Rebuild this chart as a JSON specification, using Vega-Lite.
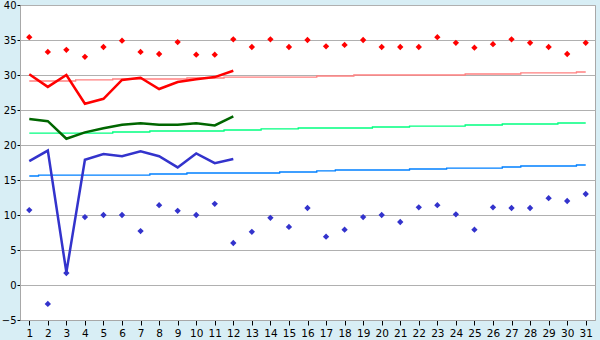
{
  "$schema": "https://vega.github.io/schema/vega-lite/v6.json",
  "width": 575,
  "height": 315,
  "autosize": {"type": "none"},
  "padding": {"left": 20, "top": 5, "right": 5, "bottom": 20},
  "background": "#d8eef5",
  "config": {
    "view": {"fill": "white", "stroke": "#a8a8a8", "strokeWidth": 1},
    "axis": {"labelFont": "DejaVu Sans", "labelFontSize": 10.5, "labelColor": "#000000", "tickColor": "#000000", "domainColor": "#a8a8a8", "title": null}
  },
  "datasets": {
    "normals": [
      {"day":1,"series":"Tmax normal","value":29.14},{"day":2,"series":"Tmax normal","value":29.14},{"day":3,"series":"Tmax normal","value":29.14},{"day":4,"series":"Tmax normal","value":29.29},{"day":5,"series":"Tmax normal","value":29.29},{"day":6,"series":"Tmax normal","value":29.43},{"day":7,"series":"Tmax normal","value":29.43},{"day":8,"series":"Tmax normal","value":29.43},{"day":9,"series":"Tmax normal","value":29.43},{"day":10,"series":"Tmax normal","value":29.57},{"day":11,"series":"Tmax normal","value":29.57},{"day":12,"series":"Tmax normal","value":29.71},{"day":13,"series":"Tmax normal","value":29.71},{"day":14,"series":"Tmax normal","value":29.71},{"day":15,"series":"Tmax normal","value":29.71},{"day":16,"series":"Tmax normal","value":29.71},{"day":17,"series":"Tmax normal","value":29.86},{"day":18,"series":"Tmax normal","value":29.86},{"day":19,"series":"Tmax normal","value":30.0},{"day":20,"series":"Tmax normal","value":30.0},{"day":21,"series":"Tmax normal","value":30.0},{"day":22,"series":"Tmax normal","value":30.0},{"day":23,"series":"Tmax normal","value":30.0},{"day":24,"series":"Tmax normal","value":30.0},{"day":25,"series":"Tmax normal","value":30.14},{"day":26,"series":"Tmax normal","value":30.14},{"day":27,"series":"Tmax normal","value":30.14},{"day":28,"series":"Tmax normal","value":30.29},{"day":29,"series":"Tmax normal","value":30.29},{"day":30,"series":"Tmax normal","value":30.29},{"day":31,"series":"Tmax normal","value":30.43},
      {"day":1,"series":"Tmean normal","value":21.71},{"day":2,"series":"Tmean normal","value":21.71},{"day":3,"series":"Tmean normal","value":21.71},{"day":4,"series":"Tmean normal","value":21.71},{"day":5,"series":"Tmean normal","value":21.71},{"day":6,"series":"Tmean normal","value":21.86},{"day":7,"series":"Tmean normal","value":21.86},{"day":8,"series":"Tmean normal","value":22.0},{"day":9,"series":"Tmean normal","value":22.0},{"day":10,"series":"Tmean normal","value":22.0},{"day":11,"series":"Tmean normal","value":22.0},{"day":12,"series":"Tmean normal","value":22.14},{"day":13,"series":"Tmean normal","value":22.14},{"day":14,"series":"Tmean normal","value":22.29},{"day":15,"series":"Tmean normal","value":22.29},{"day":16,"series":"Tmean normal","value":22.43},{"day":17,"series":"Tmean normal","value":22.43},{"day":18,"series":"Tmean normal","value":22.43},{"day":19,"series":"Tmean normal","value":22.43},{"day":20,"series":"Tmean normal","value":22.57},{"day":21,"series":"Tmean normal","value":22.57},{"day":22,"series":"Tmean normal","value":22.71},{"day":23,"series":"Tmean normal","value":22.71},{"day":24,"series":"Tmean normal","value":22.71},{"day":25,"series":"Tmean normal","value":22.86},{"day":26,"series":"Tmean normal","value":22.86},{"day":27,"series":"Tmean normal","value":23.0},{"day":28,"series":"Tmean normal","value":23.0},{"day":29,"series":"Tmean normal","value":23.0},{"day":30,"series":"Tmean normal","value":23.14},{"day":31,"series":"Tmean normal","value":23.14},
      {"day":1,"series":"Tmin normal","value":15.57},{"day":2,"series":"Tmin normal","value":15.71},{"day":3,"series":"Tmin normal","value":15.71},{"day":4,"series":"Tmin normal","value":15.71},{"day":5,"series":"Tmin normal","value":15.71},{"day":6,"series":"Tmin normal","value":15.71},{"day":7,"series":"Tmin normal","value":15.71},{"day":8,"series":"Tmin normal","value":15.86},{"day":9,"series":"Tmin normal","value":15.86},{"day":10,"series":"Tmin normal","value":16.0},{"day":11,"series":"Tmin normal","value":16.0},{"day":12,"series":"Tmin normal","value":16.0},{"day":13,"series":"Tmin normal","value":16.0},{"day":14,"series":"Tmin normal","value":16.0},{"day":15,"series":"Tmin normal","value":16.14},{"day":16,"series":"Tmin normal","value":16.14},{"day":17,"series":"Tmin normal","value":16.29},{"day":18,"series":"Tmin normal","value":16.43},{"day":19,"series":"Tmin normal","value":16.43},{"day":20,"series":"Tmin normal","value":16.43},{"day":21,"series":"Tmin normal","value":16.43},{"day":22,"series":"Tmin normal","value":16.57},{"day":23,"series":"Tmin normal","value":16.57},{"day":24,"series":"Tmin normal","value":16.71},{"day":25,"series":"Tmin normal","value":16.71},{"day":26,"series":"Tmin normal","value":16.71},{"day":27,"series":"Tmin normal","value":16.86},{"day":28,"series":"Tmin normal","value":17.0},{"day":29,"series":"Tmin normal","value":17.0},{"day":30,"series":"Tmin normal","value":17.0},{"day":31,"series":"Tmin normal","value":17.14}
    ],
    "current": [
      {"day":1,"series":"Tmax avg","value":30.1},{"day":2,"series":"Tmax avg","value":28.3},{"day":3,"series":"Tmax avg","value":30.0},{"day":4,"series":"Tmax avg","value":25.9},{"day":5,"series":"Tmax avg","value":26.6},{"day":6,"series":"Tmax avg","value":29.3},{"day":7,"series":"Tmax avg","value":29.6},{"day":8,"series":"Tmax avg","value":28.0},{"day":9,"series":"Tmax avg","value":29.0},{"day":10,"series":"Tmax avg","value":29.4},{"day":11,"series":"Tmax avg","value":29.7},{"day":12,"series":"Tmax avg","value":30.6},
      {"day":1,"series":"Tmean","value":23.7},{"day":2,"series":"Tmean","value":23.4},{"day":3,"series":"Tmean","value":20.9},{"day":4,"series":"Tmean","value":21.8},{"day":5,"series":"Tmean","value":22.4},{"day":6,"series":"Tmean","value":22.9},{"day":7,"series":"Tmean","value":23.1},{"day":8,"series":"Tmean","value":22.9},{"day":9,"series":"Tmean","value":22.9},{"day":10,"series":"Tmean","value":23.1},{"day":11,"series":"Tmean","value":22.8},{"day":12,"series":"Tmean","value":24.1},
      {"day":1,"series":"Tmin avg","value":17.7},{"day":2,"series":"Tmin avg","value":19.2},{"day":3,"series":"Tmin avg","value":1.8},{"day":4,"series":"Tmin avg","value":17.9},{"day":5,"series":"Tmin avg","value":18.7},{"day":6,"series":"Tmin avg","value":18.4},{"day":7,"series":"Tmin avg","value":19.1},{"day":8,"series":"Tmin avg","value":18.4},{"day":9,"series":"Tmin avg","value":16.8},{"day":10,"series":"Tmin avg","value":18.8},{"day":11,"series":"Tmin avg","value":17.4},{"day":12,"series":"Tmin avg","value":18.0}
    ],
    "extremes": [
      {"day":1,"series":"Max","value":35.4},{"day":2,"series":"Max","value":33.3},{"day":3,"series":"Max","value":33.6},{"day":4,"series":"Max","value":32.6},{"day":5,"series":"Max","value":34.0},{"day":6,"series":"Max","value":34.9},{"day":7,"series":"Max","value":33.3},{"day":8,"series":"Max","value":33.0},{"day":9,"series":"Max","value":34.7},{"day":10,"series":"Max","value":32.9},{"day":11,"series":"Max","value":32.9},{"day":12,"series":"Max","value":35.1},{"day":13,"series":"Max","value":34.0},{"day":14,"series":"Max","value":35.1},{"day":15,"series":"Max","value":34.0},{"day":16,"series":"Max","value":35.0},{"day":17,"series":"Max","value":34.1},{"day":18,"series":"Max","value":34.3},{"day":19,"series":"Max","value":35.0},{"day":20,"series":"Max","value":34.0},{"day":21,"series":"Max","value":34.0},{"day":22,"series":"Max","value":34.0},{"day":23,"series":"Max","value":35.4},{"day":24,"series":"Max","value":34.6},{"day":25,"series":"Max","value":33.9},{"day":26,"series":"Max","value":34.4},{"day":27,"series":"Max","value":35.1},{"day":28,"series":"Max","value":34.6},{"day":29,"series":"Max","value":34.0},{"day":30,"series":"Max","value":33.0},{"day":31,"series":"Max","value":34.6},
      {"day":1,"series":"Min","value":10.7},{"day":2,"series":"Min","value":-2.7},{"day":3,"series":"Min","value":1.7},{"day":4,"series":"Min","value":9.7},{"day":5,"series":"Min","value":10.0},{"day":6,"series":"Min","value":10.0},{"day":7,"series":"Min","value":7.7},{"day":8,"series":"Min","value":11.4},{"day":9,"series":"Min","value":10.6},{"day":10,"series":"Min","value":10.0},{"day":11,"series":"Min","value":11.6},{"day":12,"series":"Min","value":6.0},{"day":13,"series":"Min","value":7.6},{"day":14,"series":"Min","value":9.6},{"day":15,"series":"Min","value":8.3},{"day":16,"series":"Min","value":11.0},{"day":17,"series":"Min","value":6.9},{"day":18,"series":"Min","value":7.9},{"day":19,"series":"Min","value":9.7},{"day":20,"series":"Min","value":10.0},{"day":21,"series":"Min","value":9.0},{"day":22,"series":"Min","value":11.1},{"day":23,"series":"Min","value":11.4},{"day":24,"series":"Min","value":10.1},{"day":25,"series":"Min","value":7.9},{"day":26,"series":"Min","value":11.1},{"day":27,"series":"Min","value":11.0},{"day":28,"series":"Min","value":11.0},{"day":29,"series":"Min","value":12.4},{"day":30,"series":"Min","value":12.0},{"day":31,"series":"Min","value":13.0}
    ]
  },
  "encoding": {
    "x": {"field": "day", "type": "quantitative", "scale": {"domain": [0.5, 31.5], "nice": false, "zero": false},
      "axis": {"values": [1,2,3,4,5,6,7,8,9,10,11,12,13,14,15,16,17,18,19,20,21,22,23,24,25,26,27,28,29,30,31], "grid": false, "tickSize": 5, "labelPadding": 3, "labelFlush": false}},
    "y": {"field": "value", "type": "quantitative", "scale": {"domain": [-5, 40], "nice": false, "zero": false},
      "axis": {"values": [-5,0,5,10,15,20,25,30,35,40], "grid": true, "gridColor": "#b0b0b0", "gridWidth": 1, "tickSize": 3, "labelPadding": 1, "labelFlush": false, "labelFontSize": 10}},
    "color": {"field": "series", "type": "nominal", "legend": null,
      "scale": {"domain": ["Tmax normal","Tmean normal","Tmin normal","Tmax avg","Tmean","Tmin avg","Max","Min"],
                "range": ["#ff8080","#00ff80","#0080ff","#ff0000","#006600","#3333cc","#ff0000","#3333cc"]}}
  },
  "layer": [
    {"data": {"name": "normals"}, "mark": {"type": "line", "interpolate": "step", "strokeWidth": 1.3}},
    {"data": {"name": "current"}, "mark": {"type": "line", "strokeWidth": 2.5}},
    {"data": {"name": "extremes"}, "mark": {"type": "point", "shape": "diamond", "filled": true, "size": 40, "opacity": 1}}
  ]
}
